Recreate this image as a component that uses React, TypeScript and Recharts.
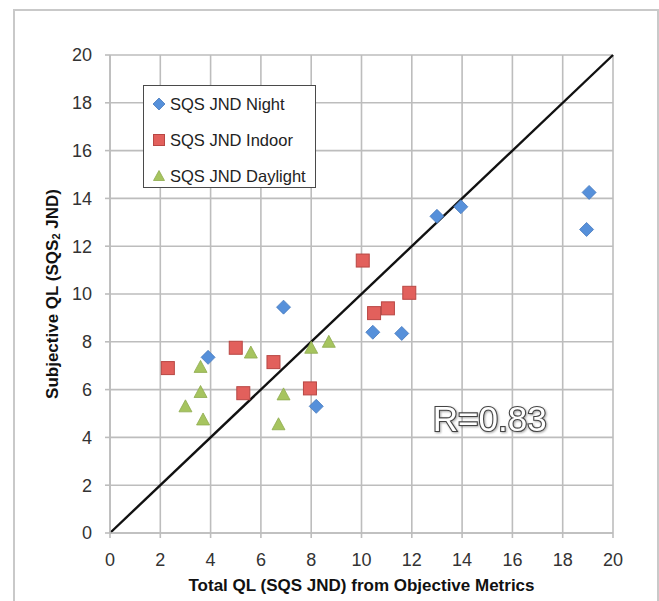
import {
  ScatterChart,
  Scatter,
  XAxis,
  YAxis,
  CartesianGrid,
  ReferenceLine,
  ReferenceDot,
  Legend,
} from "recharts";

const axisTicks = [0, 2, 4, 6, 8, 10, 12, 14, 16, 18, 20];

const nightPoints = [
  { x: 3.9, y: 7.35 },
  { x: 6.9, y: 9.45 },
  { x: 8.2, y: 5.3 },
  { x: 10.45, y: 8.4 },
  { x: 11.6, y: 8.35 },
  { x: 13.0, y: 13.25 },
  { x: 13.95, y: 13.65 },
  { x: 19.05, y: 14.25 },
  { x: 18.95, y: 12.7 },
];

const indoorPoints = [
  { x: 2.3, y: 6.9 },
  { x: 5.0, y: 7.75 },
  { x: 6.5, y: 7.15 },
  { x: 5.3, y: 5.85 },
  { x: 7.95, y: 6.05 },
  { x: 10.05, y: 11.4 },
  { x: 10.5, y: 9.2 },
  { x: 11.05, y: 9.4 },
  { x: 11.9, y: 10.05 },
];

const daylightPoints = [
  { x: 3.0, y: 5.3 },
  { x: 3.6, y: 6.95 },
  { x: 3.6, y: 5.9 },
  { x: 3.7, y: 4.75 },
  { x: 5.6, y: 7.55 },
  { x: 6.9, y: 5.8 },
  { x: 6.7, y: 4.55 },
  { x: 8.0, y: 7.75 },
  { x: 8.7, y: 8.0 },
];

const seriesNames = ["SQS JND Night", "SQS JND Indoor", "SQS JND Daylight"];
const identityLine = [
  { x: 0, y: 0 },
  { x: 20, y: 20 },
];

const FONT = "'Liberation Sans', Arial, sans-serif";
const GRID = "#bdbdbd";

const BLUE = "#5690da";
const RED = "#e2605c";
const GREEN = "#a6c45f";

function Diamond({ cx, cy, s = 7 }: { cx: number; cy: number; s?: number }) {
  return (
    <path
      d={`M${cx},${cy - s} L${cx + s},${cy} L${cx},${cy + s} L${cx - s},${cy} Z`}
      fill={BLUE}
      stroke="#4678bd"
      strokeWidth={0.8}
    />
  );
}

function Square({ cx, cy, s = 6.5 }: { cx: number; cy: number; s?: number }) {
  return (
    <rect
      x={cx - s}
      y={cy - s}
      width={s * 2}
      height={s * 2}
      fill={RED}
      stroke="#b84744"
      strokeWidth={1}
    />
  );
}

function Triangle({ cx, cy, s = 6.5 }: { cx: number; cy: number; s?: number }) {
  return (
    <path
      d={`M${cx},${cy - s} L${cx + s},${cy + s - 1} L${cx - s},${cy + s - 1} Z`}
      fill={GREEN}
      stroke="#8eab4e"
      strokeWidth={0.8}
    />
  );
}

const markerFor = [Diamond, Square, Triangle];

const LegendBox = () => (
  <div
    style={{
      width: 171,
      height: 101,
      border: "1.5px solid #4a4a4a",
      background: "#fff",
      fontFamily: FONT,
      fontSize: 16.5,
      color: "#222",
      position: "relative",
    }}
  >
    {seriesNames.map((name, i) => {
      const Marker = markerFor[i];
      return (
        <div
          key={name}
          style={{
            position: "absolute",
            left: 6,
            top: 7 + i * 36,
            height: 22,
            display: "flex",
            alignItems: "center",
            whiteSpace: "nowrap",
          }}
        >
          <svg width={18} height={18} style={{ marginRight: 2 }}>
            <Marker cx={9} cy={9} s={i === 0 ? 6 : 5.5} />
          </svg>
          {name}
        </div>
      );
    })}
  </div>
);

const YTitle = (props: any) => {
  const cy = props.viewBox.y + props.viewBox.height / 2;
  const cx = 52;
  return (
    <text
      x={cx}
      y={cy}
      transform={`rotate(-90 ${cx} ${cy})`}
      textAnchor="middle"
      dominantBaseline="central"
      fontFamily={FONT}
      fontWeight="bold"
      fontSize={17}
      fill="#111"
    >
      <tspan>Subjective QL (SQS</tspan>
      <tspan dy={4} fontSize={11}>
        2
      </tspan>
      <tspan dy={-4}> JND)</tspan>
    </text>
  );
};

const RLabel = ({ cx, cy }: { cx: number; cy: number }) => (
  <text
    x={cx}
    y={cy}
    textAnchor="middle"
    dominantBaseline="central"
    fontFamily={FONT}
    fontSize={35}
    fill="#fff"
    stroke="#444"
    strokeWidth={2.2}
    paintOrder="stroke"
    style={{ filter: "drop-shadow(1px 1px 1px rgba(0,0,0,0.35))" }}
  >
    R=0.83
  </text>
);

export default function App() {
  return (
    <div
      style={{
        position: "absolute",
        left: 0,
        top: 0,
        width: 659,
        height: 601,
        overflow: "hidden",
        background: "#fff",
      }}
    >
      <div
        style={{
          position: "absolute",
          left: 13,
          top: 9,
          width: 642,
          height: 620,
          border: "2px solid #c9c9c9",
        }}
      />
      <ScatterChart
        width={659}
        height={601}
        margin={{ top: 55, right: 46, bottom: 0, left: 0 }}
        style={{ position: "absolute", left: 0, top: 0 }}
      >
        <CartesianGrid stroke={GRID} strokeWidth={1.6} />
        <XAxis
          type="number"
          dataKey="x"
          domain={[0, 20]}
          ticks={axisTicks}
          interval={0}
          height={68}
          tickSize={5}
          tickMargin={15}
          axisLine={{ stroke: GRID, strokeWidth: 1.6 }}
          tickLine={{ stroke: GRID, strokeWidth: 1.6 }}
          tick={{ fill: "#333", fontSize: 18, fontFamily: FONT }}
          label={{
            value: "Total QL (SQS JND) from Objective Metrics",
            position: "insideBottom",
            offset: 10,
            fill: "#111",
            fontSize: 17,
            fontWeight: "bold",
            fontFamily: FONT,
          }}
        />
        <YAxis
          type="number"
          dataKey="y"
          domain={[0, 20]}
          ticks={axisTicks}
          interval={0}
          width={110}
          tickSize={5}
          tickMargin={13}
          axisLine={{ stroke: GRID, strokeWidth: 1.6 }}
          tickLine={{ stroke: GRID, strokeWidth: 1.6 }}
          tick={{ fill: "#333", fontSize: 18, fontFamily: FONT }}
          label={<YTitle />}
        />
        <ReferenceLine
          segment={identityLine}
          stroke="#111"
          strokeWidth={2.4}
          ifOverflow="visible"
        />
        <Scatter
          name={seriesNames[0]}
          data={nightPoints}
          shape={(p: any) => <Diamond cx={p.cx} cy={p.cy} />}
          isAnimationActive={false}
        />
        <Scatter
          name={seriesNames[1]}
          data={indoorPoints}
          shape={(p: any) => <Square cx={p.cx} cy={p.cy} />}
          isAnimationActive={false}
        />
        <Scatter
          name={seriesNames[2]}
          data={daylightPoints}
          shape={(p: any) => <Triangle cx={p.cx} cy={p.cy} />}
          isAnimationActive={false}
        />
        <ReferenceDot
          x={15.1}
          y={4.8}
          r={0}
          ifOverflow="visible"
          shape={(p: any) => <RLabel cx={p.cx} cy={p.cy} />}
        />
        <Legend
          layout="vertical"
          align="center"
          verticalAlign="middle"
          content={<LegendBox />}
          wrapperStyle={{ left: 143, top: 85, width: "auto" }}
        />
      </ScatterChart>
    </div>
  );
}
